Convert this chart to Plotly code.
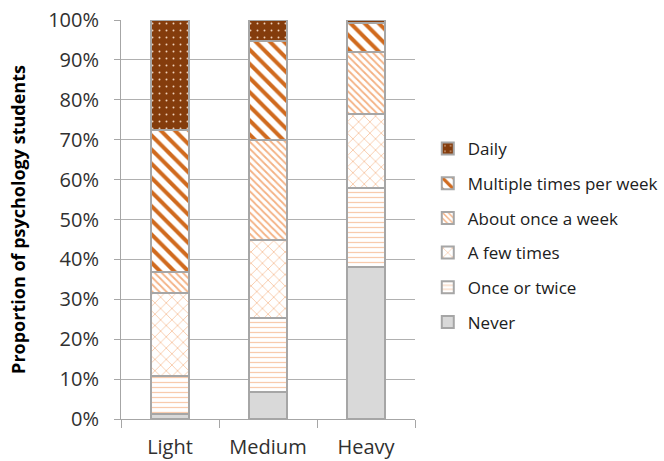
import plotly.graph_objects as go

categories = ["Light", "Medium", "Heavy"]
series_names = ["Never", "Once or twice", "A few times", "About once a week",
                "Multiple times per week", "Daily"]
never = [1.3, 6.7, 38.0]
once_or_twice = [9.6, 18.5, 19.9]
a_few_times = [20.8, 19.7, 18.5]
about_once_a_week = [5.1, 25.1, 15.7]
multiple_per_week = [35.7, 24.8, 7.1]
daily = [27.5, 5.2, 0.8]
y_ticks = [0, 10, 20, 30, 40, 50, 60, 70, 80, 90, 100]
y_tick_labels = [f"{v}%" for v in y_ticks]

values = [never, once_or_twice, a_few_times, about_once_a_week, multiple_per_week, daily]

styles = [
    dict(color="#D9D9D9"),
    dict(color="white", pattern=dict(shape="-", fgcolor="#F8CBAD", bgcolor="white",
                                     size=5, solidity=0.25, fillmode="replace")),
    dict(color="white", pattern=dict(shape="x", fgcolor="#F4B183", bgcolor="white",
                                     size=8, solidity=0.15, fillmode="replace")),
    dict(color="white", pattern=dict(shape="\\", fgcolor="#F4B183", bgcolor="white",
                                     size=5, solidity=0.35, fillmode="replace")),
    dict(color="white", pattern=dict(shape="\\", fgcolor="#D06A1E", bgcolor="white",
                                     size=10, solidity=0.4, fillmode="replace")),
    dict(color="#843C0C", pattern=dict(shape=".", fgcolor="#F0D0B8", bgcolor="#843C0C",
                                       size=7, solidity=0.06, fillmode="replace")),
]

font_family = "Open Sans, Lato, DejaVu Sans, sans-serif"

fig = go.Figure()
n = len(series_names)
for i, (name, vals, st) in enumerate(zip(series_names, values, styles)):
    fig.add_trace(go.Bar(
        x=categories, y=vals, name=name, legendgroup=name, legendrank=n - i,
        marker=dict(line=dict(color="#A6A6A6", width=2), **st),
    ))

fig.update_layout(
    width=664, height=461,
    margin=dict(l=121, r=249, t=20, b=42, autoexpand=False),
    barmode="stack", bargap=0.61,
    paper_bgcolor="white", plot_bgcolor="white",
    font=dict(family=font_family, color="#404040", size=17),
    legend=dict(
        x=1.0435, xanchor="left", y=0.46, yanchor="middle",
        traceorder="grouped", tracegroupgap=9.6,
        font=dict(size=17, color="#202020"),
        itemwidth=30,
    ),
    showlegend=True,
)
fig.update_yaxes(
    range=[0, 100], tickvals=y_ticks, ticktext=y_tick_labels,
    showgrid=True, gridcolor="#B0B0B0", gridwidth=1,
    showline=True, linecolor="#A6A6A6", linewidth=1,
    ticks="outside", ticklen=6, tickcolor="#A6A6A6",
    ticklabelstandoff=11, zeroline=False, automargin=False,
    tickfont=dict(size=20, color="#303030"),
    title=dict(text="<b>Proportion of psychology students</b>",
               font=dict(size=18, color="black"), standoff=17),
)
fig.update_xaxes(
    showline=True, linecolor="#A6A6A6", linewidth=1, automargin=False,
    ticks="outside", ticklen=8, tickcolor="#A6A6A6", tickson="boundaries",
    ticklabelstandoff=10,
    tickfont=dict(size=20, color="#303030"),
)

fig.write_html("out.html", config={"displayModeBar": False},
               post_script="document.body.style.margin='0';")
